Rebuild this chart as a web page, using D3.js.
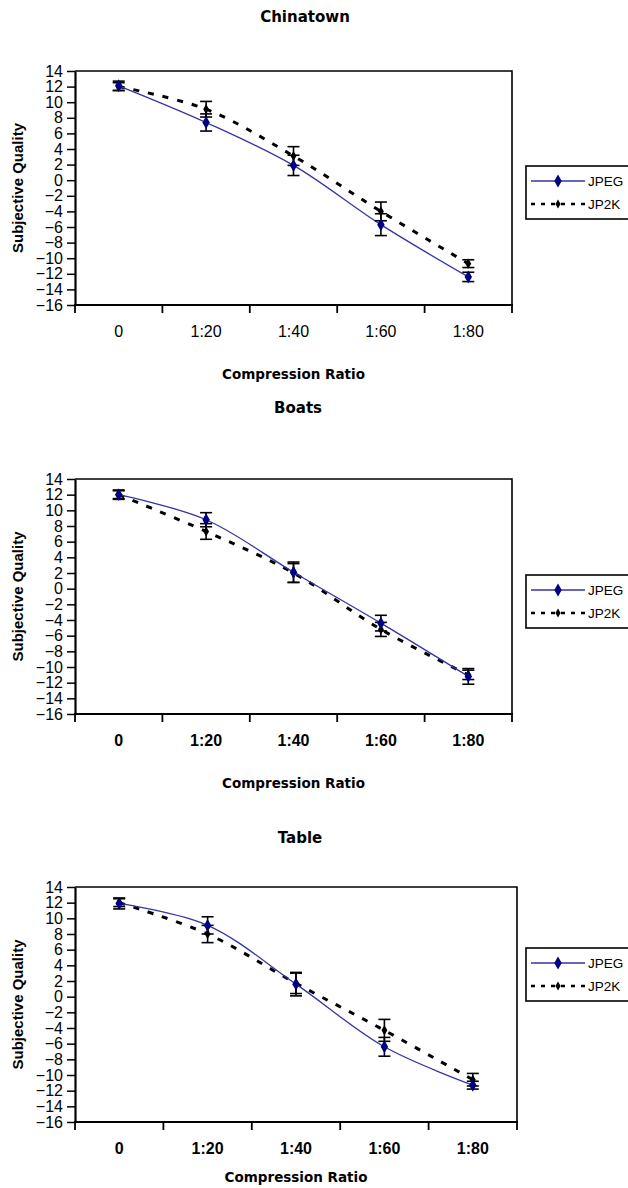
<!DOCTYPE html>
<html>
<head>
<meta charset="utf-8">
<script src="https://cdn.jsdelivr.net/npm/d3@7"></script>
<style>
  body { margin: 0; background: #fff; }
  svg { display: block; }
</style>
</head>
<body>
<script>
// Data
const categories = ['0', '1:20', '1:40', '1:60', '1:80'];
const yTickValues = [14, 12, 10, 8, 6, 4, 2, 0, -2, -4, -6, -8, -10, -12, -14, -16];
const seriesNames = ['JPEG', 'JP2K'];

const chinatownJPEG = [12.1, 7.4, 1.9, -5.7, -12.4];
const chinatownJPEGErr = [0.6, 1.1, 1.3, 1.4, 0.6];
const chinatownJP2K = [12.0, 9.1, 3.1, -4.0, -10.7];
const chinatownJP2KErr = [0.5, 1.0, 1.2, 1.2, 0.5];

const boatsJPEG = [12.0, 8.8, 2.1, -4.4, -11.2];
const boatsJPEGErr = [0.6, 0.9, 1.3, 1.0, 1.0];
const boatsJP2K = [12.0, 7.3, 2.0, -5.2, -11.0];
const boatsJP2KErr = [0.5, 1.0, 1.2, 0.9, 0.6];

const tableJPEG = [11.9, 9.1, 1.6, -6.4, -11.3];
const tableJPEGErr = [0.7, 1.1, 1.5, 1.2, 0.5];
const tableJP2K = [12.0, 8.0, 1.7, -4.3, -10.6];
const tableJP2KErr = [0.5, 1.1, 1.3, 1.4, 0.8];

// SVG setup
const width = 628;
const height = 1188;

const svg = d3.select('body')
.append('svg')
.attr('width', width)
.attr('height', height);

const jpegLine = '#3535a3';
const jpegMark = '#000080';

drawPanel({
    title: 'Chinatown', titleX: 305, titleY: 17,
    left: 75, right: 512, top: 71, bottom: 305,
    xLabelY: 331, xLabelBold: false, xTitleY: 374,
    legendTop: 166,
    jpeg: chinatownJPEG, jpegErr: chinatownJPEGErr,
    jp2k: chinatownJP2K, jp2kErr: chinatownJP2KErr
});

drawPanel({
    title: 'Boats', titleX: 298, titleY: 408,
    left: 75, right: 512, top: 479, bottom: 714,
    xLabelY: 740, xLabelBold: true, xTitleY: 783,
    legendTop: 575,
    jpeg: boatsJPEG, jpegErr: boatsJPEGErr,
    jp2k: boatsJP2K, jp2kErr: boatsJP2KErr
});

drawPanel({
    title: 'Table', titleX: 300, titleY: 838,
    left: 75, right: 517, top: 887, bottom: 1122,
    xLabelY: 1148, xLabelBold: true, xTitleY: 1177,
    legendTop: 948,
    jpeg: tableJPEG, jpegErr: tableJPEGErr,
    jp2k: tableJP2K, jp2kErr: tableJP2KErr
});

function drawPanel(p) {
    const g = svg.append('g');

    const xScale = d3.scaleBand()
    .domain(categories)
    .range([p.left, p.right])
    .padding(0);

    const yScale = d3.scaleLinear()
    .domain([-16, 14])
    .range([p.bottom, p.top]);

    const cx = c => xScale(c) + xScale.bandwidth() / 2;

    // Title
    g.append('text')
    .text(p.title)
    .attr('x', p.titleX)
    .attr('y', p.titleY)
    .attr('dy', '0.36em')
    .attr('text-anchor', 'middle')
    .attr('font-family', 'DejaVu Sans, sans-serif')
    .attr('font-weight', 'bold')
    .attr('font-size', '15px');

    // Plot frame (top and right)
    g.append('path')
    .attr('d', `M${p.left},${p.top}H${p.right}V${p.bottom}`)
    .attr('fill', 'none')
    .attr('stroke', '#000')
    .attr('stroke-width', 1.6);

    // Y axis
    const yAxis = g.append('g')
    .attr('transform', `translate(${p.left},0)`)
    .call(d3.axisLeft(yScale).tickValues(yTickValues).tickSize(8).tickSizeOuter(0).tickPadding(4));
    yAxis.select('.domain').attr('stroke-width', 2.2);
    yAxis.selectAll('.tick line').attr('stroke-width', 1.5);
    yAxis.selectAll('text')
    .attr('font-family', 'Liberation Sans, Arial, sans-serif')
    .attr('font-size', '16px')
    .attr('fill', '#000');

    // X axis
    const xAxis = g.append('g')
    .attr('transform', `translate(0,${p.bottom})`);
    xAxis.append('line')
    .attr('x1', p.left - 1)
    .attr('x2', p.right + 1)
    .attr('stroke', '#000')
    .attr('stroke-width', 2.2);
    xAxis.selectAll('.xtick')
    .data(categories.concat(['end']))
    .enter()
    .append('line')
    .attr('x1', (c, i) => i < categories.length ? xScale(c) : p.right)
    .attr('x2', (c, i) => i < categories.length ? xScale(c) : p.right)
    .attr('y1', 0)
    .attr('y2', 8)
    .attr('stroke', '#000')
    .attr('stroke-width', 1.8);

    g.selectAll('.xlabel')
    .data(categories)
    .enter()
    .append('text')
    .text(c => c)
    .attr('x', c => cx(c))
    .attr('y', p.xLabelY)
    .attr('dy', '0.36em')
    .attr('text-anchor', 'middle')
    .attr('font-family', 'Liberation Sans, Arial, sans-serif')
    .attr('font-weight', p.xLabelBold ? 'bold' : 'normal')
    .attr('font-size', '16px');

    // Axis titles
    g.append('text')
    .text('Compression Ratio')
    .attr('x', (p.left + p.right) / 2)
    .attr('y', p.xTitleY)
    .attr('dy', '0.36em')
    .attr('text-anchor', 'middle')
    .attr('font-family', 'DejaVu Sans, sans-serif')
    .attr('font-weight', 'bold')
    .attr('font-size', '13.5px');

    g.append('text')
    .text('Subjective Quality')
    .attr('transform', `translate(18,${(p.top + p.bottom) / 2}) rotate(-90)`)
    .attr('dy', '0.36em')
    .attr('text-anchor', 'middle')
    .attr('font-family', 'Liberation Sans, Arial, sans-serif')
    .attr('font-weight', 'bold')
    .attr('font-size', '15px');

    const line = d3.line()
    .x((d, i) => cx(categories[i]))
    .y(d => yScale(d))
    .curve(d3.curveCatmullRom.alpha(0.5));

    // JP2K dashed line
    g.append('path')
    .attr('d', line(p.jp2k))
    .attr('fill', 'none')
    .attr('stroke', '#000')
    .attr('stroke-width', 3)
    .attr('stroke-dasharray', '6,9');

    // JPEG line
    g.append('path')
    .attr('d', line(p.jpeg))
    .attr('fill', 'none')
    .attr('stroke', jpegLine)
    .attr('stroke-width', 1.3);

    // Error bars
    const drawErr = (vals, errs) => {
        const eg = g.append('g')
        .attr('stroke', '#000')
        .attr('stroke-width', 1.6);
        vals.forEach((v, i) => {
            const x = cx(categories[i]);
            const y1 = yScale(v + errs[i]);
            const y2 = yScale(v - errs[i]);
            eg.append('line').attr('x1', x).attr('x2', x).attr('y1', y1).attr('y2', y2);
            eg.append('line').attr('x1', x - 6).attr('x2', x + 6).attr('y1', y1).attr('y2', y1);
            eg.append('line').attr('x1', x - 6).attr('x2', x + 6).attr('y1', y2).attr('y2', y2);
        });
    };
    drawErr(p.jpeg, p.jpegErr);
    drawErr(p.jp2k, p.jp2kErr);

    // Markers
    g.selectAll('.jp2kmark')
    .data(p.jp2k)
    .enter()
    .append('path')
    .attr('d', d3.symbol(d3.symbolDiamond, 30))
    .attr('transform', (d, i) => `translate(${cx(categories[i])},${yScale(d)})`)
    .attr('fill', '#000');

    g.selectAll('.jpegmark')
    .data(p.jpeg)
    .enter()
    .append('path')
    .attr('d', d3.symbol(d3.symbolDiamond, 48))
    .attr('transform', (d, i) => `translate(${cx(categories[i])},${yScale(d)})`)
    .attr('fill', jpegMark);

    // Legend
    const lg = g.append('g').attr('transform', `translate(526,${p.legendTop})`);
    lg.append('rect')
    .attr('x', 0)
    .attr('y', 0)
    .attr('width', 120)
    .attr('height', 53)
    .attr('fill', '#fff')
    .attr('stroke', '#000')
    .attr('stroke-width', 1.6);

    seriesNames.forEach((name, i) => {
        const ly = 15 + i * 23;
        const item = lg.append('g').attr('transform', `translate(0,${ly})`);
        item.append('line')
        .attr('x1', 5)
        .attr('x2', 59)
        .attr('stroke', i === 0 ? jpegLine : '#000')
        .attr('stroke-width', i === 0 ? 1.5 : 2.5)
        .attr('stroke-dasharray', i === 0 ? null : '4,6');
        item.append('path')
        .attr('d', d3.symbol(d3.symbolDiamond, i === 0 ? 48 : 24))
        .attr('transform', 'translate(32,0)')
        .attr('fill', i === 0 ? jpegMark : '#000');
        item.append('text')
        .text(name)
        .attr('x', 62)
        .attr('dy', '0.36em')
        .attr('font-family', 'Liberation Sans, Arial, sans-serif')
        .attr('font-size', '13.5px');
    });
}
</script>
</body>
</html>
